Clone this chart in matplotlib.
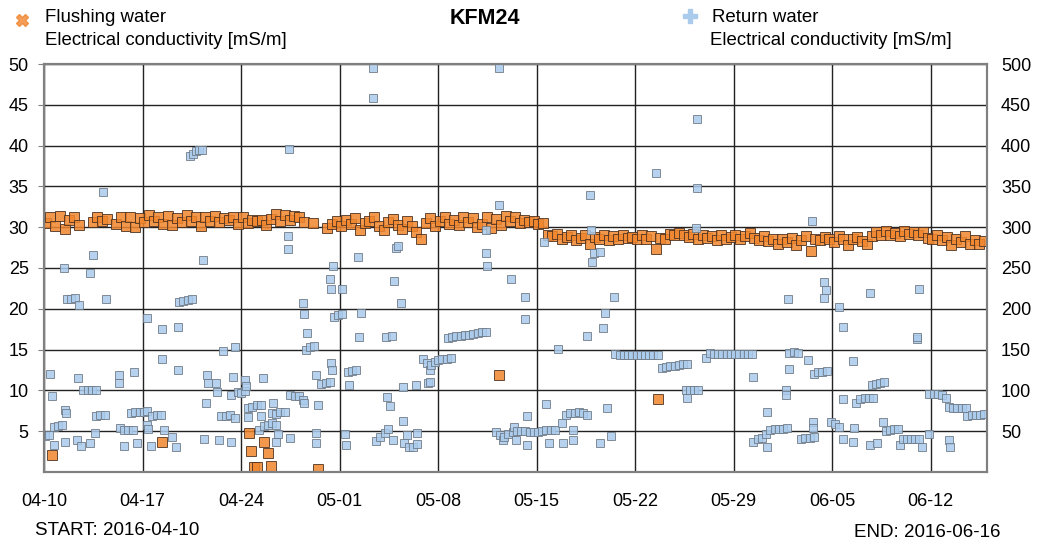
import datetime as dt
import matplotlib
matplotlib.use("Agg")
import matplotlib.pyplot as plt
import matplotlib.dates as mdates
from matplotlib.lines import Line2D

plt.rcParams['font.family'] = ['Liberation Sans', 'DejaVu Sans']

start = dt.datetime(2016, 4, 10)
end = dt.datetime(2016, 6, 16)

# flushing water, three readings a day (hours below), None = no reading
read_hours = [3, 11, 19]
flush_daily = [
    [30.5, 31.3, 30.2], [31.4, 29.8, 30.9], [31.2, 30.3, None], [None, 30.6, 31.3],
    [30.8, 31.0, None], [30.4, 31.2, 30.2], [31.3, 30.0, 31.1], [30.6, 31.5, 30.7],
    [31.2, 30.4, 31.4], [30.3, 31.1, 30.6], [31.5, 30.8, 31.2], [30.2, 31.3, 30.7],
    [31.4, 30.6, 31.1], [30.9, 31.3, 30.4], [31.2, 30.5, 30.9], [30.7, 30.9, 30.3],
    [31.0, 31.6, 30.8], [31.5, 30.9, 31.4], [31.2, 30.6, None], [30.5, None, None],
    [29.9, 30.4, 30.8], [30.2, 30.9, 30.4], [31.1, 29.6, 30.5], [30.8, 31.2, 30.1],
    [29.7, 30.6, 31.0], [30.3, 29.8, 30.7], [30.1, 29.4, 28.6], [30.5, 31.1, 30.2],
    [30.7, 31.2, 30.4], [30.9, 30.3, 31.3], [30.6, 31.1, 30.0], [30.4, 31.2, 29.9],
    [31.0, 30.3, 31.4], [30.8, 31.3, 30.5], [30.9, 30.6, 30.8], [30.4, 30.5, 29.1],
    [28.9, 29.2, 28.5], [28.8, 29.1, 28.4], [28.7, 29.0, 28.0], [28.8, 28.5, 29.0],
    [28.4, 28.9, 28.6], [29.1, 28.7, 28.8], [28.5, 29.0, 28.6], [28.9, 27.3, 28.7],
    [28.6, 29.2, 29.0], [29.3, 29.1, 28.8], [29.2, 28.5, 29.0], [28.7, 28.9, 28.4],
    [29.0, 28.6, 28.8], [29.1, 28.5, 28.9], [29.3, 28.7, 28.4], [28.9, 28.3, 28.6],
    [28.0, 28.5, 28.2], [28.7, 27.8, 28.4], [28.9, 27.1, 28.6], [28.4, 28.8, 28.6],
    [28.2, 28.9, 28.5], [27.8, 28.6, 28.8], [28.3, 27.9, 28.9], [29.4, 29.0, 29.5],
    [29.1, 29.3, 28.9], [29.5, 29.2, 29.4], [29.0, 29.4, 28.7], [28.6, 29.1, 28.4],
    [28.8, 27.8, 28.5], [28.2, 28.9, 27.9], [28.4, 28.0, 28.3],
]
# odd flushing readings (days after start, mS/m)
flush_extra_days = [0.6, 8.4, 14.55, 14.7, 14.9, 15.15, 15.6, 15.9, 16.1, 19.5, 32.3, 43.6]
flush_extra_vals = [2.1, 3.7, 4.75, 2.55, 0.6, 0.6, 3.65, 2.3, 0.7, 0.35, 11.9, 9.0]

# return water (days after start, mS/m)
return_days = [
    0.1, 0.35, 0.46, 0.6, 0.7, 0.7, 1.0, 1.3, 1.4, 1.5, 1.55, 1.5, 1.6, 1.9, 2.2, 2.35, 2.45,
    2.5, 2.6, 2.8, 3.1, 3.3, 3.3, 3.4, 3.45, 3.65, 3.7, 3.7, 4.0, 4.2, 4.3, 4.4, 5.3, 5.35,
    5.4, 5.65, 5.7, 6.0, 6.2, 6.3, 6.4, 6.5, 6.6, 6.8, 7.1, 7.3, 7.35, 7.35, 7.4, 7.6, 7.7,
    8.0, 8.3, 8.4, 8.4, 8.5, 9.1, 9.35, 9.5, 9.5, 9.6, 9.9, 10.2, 10.4, 10.5, 10.6, 10.8,
    11.0, 11.2, 11.3, 11.35, 11.5, 11.6, 11.65, 12.2, 12.3, 12.4, 12.6, 12.7, 12.9, 13.2,
    13.25, 13.3, 13.4, 13.6, 13.6, 13.8,
    14.0, 14.3, 14.3, 14.35, 14.5, 14.5, 14.8, 15.1, 15.25, 15.4, 15.4, 15.55, 15.6, 15.9,
    16.2, 16.2, 16.25, 16.45, 16.5, 16.5, 16.6, 16.8, 17.1, 17.3, 17.35, 17.4, 17.5, 17.5,
    17.8, 18.1, 18.4, 18.45, 18.4, 18.45, 18.6, 18.65, 18.9, 19.2, 19.3, 19.3, 19.35, 19.5,
    19.7, 20.0, 20.3, 20.35, 20.4, 20.4, 20.45, 20.5, 20.6, 20.9, 21.2, 21.2, 21.4, 21.45,
    21.6, 21.65, 21.9, 22.2, 22.3, 22.35, 22.5, 23.35, 23.35, 23.6, 23.9, 24.2, 24.3, 24.4,
    24.45, 24.6, 24.7, 24.8, 24.9, 25.0, 25.15, 25.35, 25.5, 25.5, 25.6, 25.8, 25.9, 26.2,
    26.4, 26.5, 26.5, 26.9, 27.2, 27.3, 27.45, 27.45, 27.5, 27.8,
    28.0, 28.3, 28.6, 28.7, 28.9, 29.0, 29.3, 29.6, 29.9, 30.2, 30.5, 30.8, 31.1, 31.4,
    31.4, 31.4, 31.45, 32.1, 32.3, 32.3, 32.4, 32.6, 32.7, 33.0, 33.2, 33.3, 33.4, 33.5,
    33.6, 33.9, 34.2, 34.2, 34.2, 34.35, 34.35, 34.5, 34.8, 35.1, 35.4, 35.5, 35.65, 35.7,
    35.9, 36.0, 36.3, 36.55, 36.8, 36.9, 37.1, 37.4, 37.6, 37.6, 37.7, 38.0, 38.3, 38.6,
    38.6, 38.8, 38.85, 38.9, 39.1, 39.5, 39.5, 39.7, 39.85, 40.0, 40.3, 40.5, 40.6, 40.9,
    41.2, 41.5, 41.8,
    42.1, 42.4, 42.7, 43.0, 43.3, 43.5, 43.6, 43.9, 44.2, 44.5, 44.8, 45.1, 45.4, 45.6,
    45.65, 45.7, 45.9, 46.2, 46.3, 46.4, 46.4, 46.5, 47.0, 47.3, 47.6, 47.9, 48.2, 48.5,
    48.8, 49.1, 49.4, 49.7, 50.0, 50.3, 50.35, 50.4, 50.7, 51.0, 51.3, 51.35, 51.4, 51.6,
    51.9, 52.2, 52.5, 52.7, 52.75, 52.8, 52.85, 52.9, 52.9, 53.3, 53.6, 53.8, 54.1, 54.3,
    54.4, 54.55, 54.6, 54.65, 54.7, 54.7, 55.0, 55.3, 55.4, 55.45, 55.6,
    55.55, 55.9, 56.2, 56.5, 56.5, 56.8, 56.8, 56.8, 57.5, 57.5, 57.55, 57.7, 58.0, 58.3,
    58.6, 58.7, 58.7, 58.8, 58.9, 59.1, 59.2, 59.4, 59.6, 59.7, 59.8, 60.1, 60.4, 60.7,
    60.8, 61.0, 61.3, 61.6, 61.9, 62.0, 62.05, 62.15, 62.2, 62.4, 62.9, 62.9, 63.2, 63.5,
    63.8, 64.1, 64.3, 64.3, 64.35, 64.6, 64.9, 65.2, 65.5, 65.6, 65.9, 66.2, 66.5, 66.8,
]
return_vals = [
    44, 45, 120, 93, 33, 55, 56, 57, 250, 76, 72, 37, 212, 212, 213, 39, 115,
    205, 32, 100, 101, 244, 35, 101, 266, 48, 101, 68, 70, 343, 70, 212, 119, 109,
    54, 32, 51, 52, 72, 52, 122, 73, 35, 74, 74, 75, 189, 57, 53, 32, 69,
    70, 70, 175, 138, 51, 43, 31, 178, 125, 208, 210, 211, 387, 212, 390, 393,
    394, 394, 260, 41, 84, 119, 109, 109, 98, 39, 68, 148, 69, 70,
    37, 94, 116, 153, 66, 98,
    97, 99, 113, 105, 78, 67, 80, 82, 51, 82, 69, 115, 56, 58,
    60, 72, 84, 37, 57, 71, 46, 73, 74, 289, 273, 396, 94, 42,
    93, 93, 88, 84, 207, 194, 150, 170, 153, 155, 119, 48, 35, 82,
    108, 109, 110, 237, 224, 134, 125, 252, 190, 192, 193, 224, 47, 33,
    122, 106, 124, 125, 264, 165, 195, 495, 458, 38, 43, 48, 165, 92,
    53, 81, 167, 39, 234, 275, 277, 207, 104, 63, 35, 45, 31, 30,
    106, 34, 48, 139, 134, 109, 125, 110, 131, 135,
    137, 138, 139, 164, 140, 166, 167, 167, 168, 168, 169, 170, 171, 171,
    296, 268, 252, 49, 495, 327, 45, 39, 43, 47, 236, 49, 55, 39,
    50, 50, 214, 187, 50, 68, 33, 49, 49, 49, 50, 282, 83, 51,
    35, 52, 51, 151, 60, 35, 70, 72, 51, 39, 72, 73, 72, 70,
    167, 339, 297, 257, 268, 269, 35, 176, 195, 78, 44, 215, 144, 143,
    143, 143, 143,
    143, 143, 143, 143, 143, 367, 143, 127, 129, 130, 130, 131, 132, 100,
    91, 132, 101, 101, 299, 432, 348, 101, 140, 146, 145, 145, 145, 145,
    145, 145, 145, 145, 145, 145, 117, 37, 40, 42, 47, 73, 30, 52,
    53, 53, 53, 100, 94, 54, 212, 146, 126, 147, 146, 40, 42, 137,
    42, 307, 61, 54, 43, 120, 122, 123, 233, 213, 124,
    223, 61, 59, 202, 55, 178, 89, 41, 136, 37, 54, 84, 90, 91,
    91, 219, 33, 106, 91, 108, 35, 109, 61, 110, 50, 52, 53, 53,
    33, 41, 41, 41, 41, 163, 166, 224, 40, 30, 96, 47, 96, 95,
    94, 91, 80, 39, 30, 79, 79, 78, 78, 69, 70, 70, 70, 71,
]

flush_t, flush_v = [], []
for i, row in enumerate(flush_daily):
    for h, v in zip(read_hours, row):
        if v is None:
            continue
        flush_t.append(start + dt.timedelta(days=i, hours=h))
        flush_v.append(v)
for d, v in zip(flush_extra_days, flush_extra_vals):
    flush_t.append(start + dt.timedelta(days=d))
    flush_v.append(v)
ret_t = [start + dt.timedelta(days=d) for d in return_days]

fig = plt.figure(figsize=(10.38, 5.42), dpi=100)
ax = fig.add_axes([0.0424, 0.1292, 0.9085, 0.7527])
ax2 = ax.twinx()

orange = '#f0862e'
blue = '#aacbec'

ax.plot(flush_t, flush_v, ls='none', marker='s', ms=6.6, mfc=orange,
        mec='#4a3020', mew=0.7, alpha=0.85)
ax2.plot(ret_t, return_vals, ls='none', marker='s', ms=6.0, mfc=blue,
         mec='#6f7a86', mew=0.7, alpha=0.85)

ax.set_xlim(start, end)
ax.set_ylim(0, 50)
ax2.set_ylim(0, 500)
ax.set_yticks(range(5, 51, 5))
ax2.set_yticks(range(50, 501, 50))
ticks = [start + dt.timedelta(days=7 * k) for k in range(10)]
ax.set_xticks(ticks)
ax.xaxis.set_major_formatter(mdates.DateFormatter('%m-%d'))

ax.grid(True, color='#222222', lw=1.0)
ax.set_axisbelow(True)
for a in (ax, ax2):
    for s in a.spines.values():
        s.set_color('#808080')
        s.set_linewidth(1.5)
ax.tick_params(axis='x', length=0, pad=15, labelsize=13)
ax.tick_params(axis='y', length=4, color='#808080', pad=7, labelsize=13)
ax2.tick_params(axis='y', length=0, pad=10, labelsize=13)

fig.text(0.467, 0.966, 'KFM24', ha='center', va='center', fontsize=15.5, fontweight='bold')
fig.add_artist(Line2D([0.021], [0.963], transform=fig.transFigure, marker='X', ms=9,
                      color=orange, mec=orange, alpha=0.8, ls='none'))
fig.text(0.043, 0.967, 'Flushing water', ha='left', va='center', fontsize=13.4)
fig.text(0.043, 0.926, 'Electrical conductivity [mS/m]', ha='left', va='center', fontsize=13.4)
fig.add_artist(Line2D([0.665], [0.971], transform=fig.transFigure, marker='P', ms=10,
                      color=blue, mec=blue, ls='none'))
fig.text(0.686, 0.968, 'Return water', ha='left', va='center', fontsize=13.4)
fig.text(0.684, 0.926, 'Electrical conductivity [mS/m]', ha='left', va='center', fontsize=13.4)
fig.text(0.034, 0.022, 'START: 2016-04-10', ha='left', va='center', fontsize=13.5)
fig.text(0.823, 0.018, 'END: 2016-06-16', ha='left', va='center', fontsize=13.5)

fig.savefig('out.png', dpi=100)
